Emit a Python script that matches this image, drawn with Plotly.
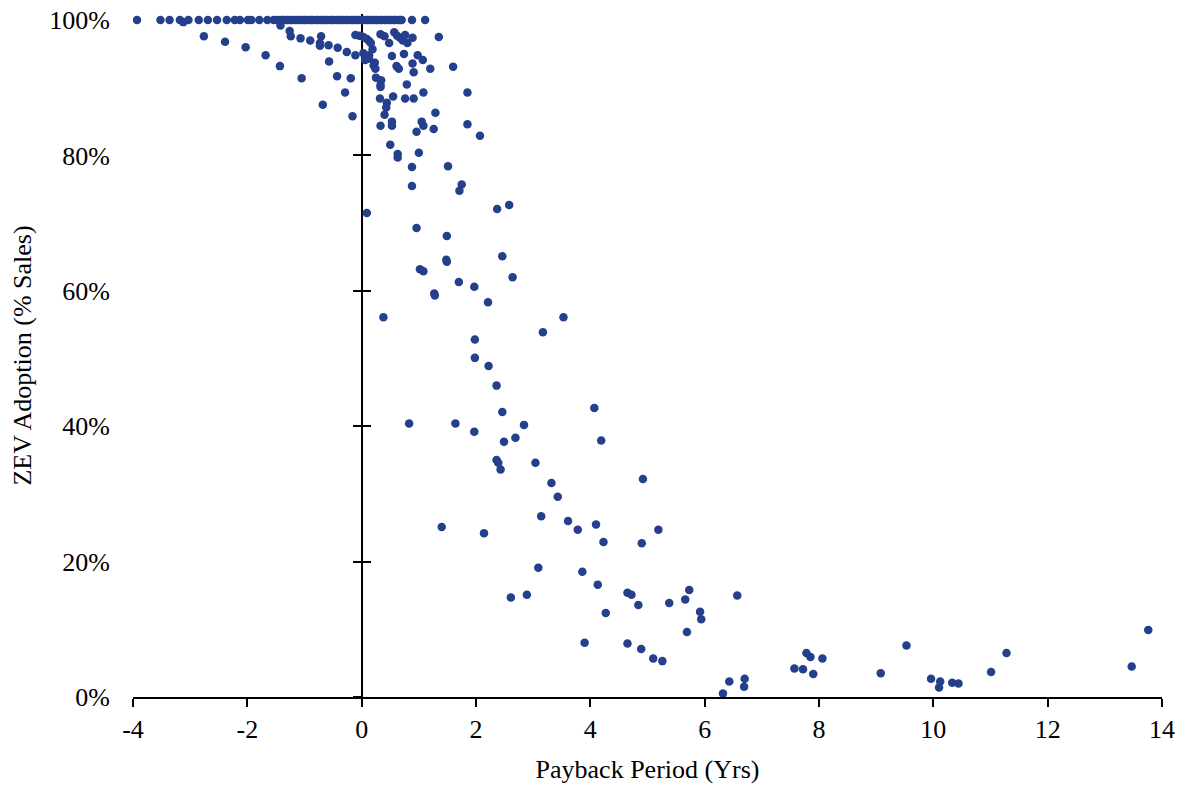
import plotly.graph_objects as go

# ---- data (payback years, ZEV adoption % of sales) ----
top_row_x = [-3.93, -3.52, -3.36, -3.18, -3.12, -3.03, -2.85, -2.69, -2.53, -2.36, -2.22,
             -2.13, -1.99, -1.93, -1.79, -1.65, -1.54, -1.49, 0.88, 1.11]
top_row_y = [100, 100, 100, 100, 99.7, 100, 100, 100, 100, 100, 100,
             100, 100, 100, 100, 100, 100, 100, 100, 100]

band_x = [-1.44, -1.40, -1.37, -1.32, -1.29, -1.24, -1.21, -1.16, -1.12, -1.09, -1.04, -1.00,
          -0.97, -0.92, -0.88, -0.85, -0.80, -0.77, -0.72, -0.69, -0.64, -0.61, -0.56, -0.52,
          -0.49, -0.44, -0.41, -0.36, -0.33, -0.28, -0.25, -0.20, -0.16, -0.13, -0.08, -0.05,
          0.00, 0.03, 0.08, 0.11, 0.16, 0.19, 0.24, 0.27, 0.32, 0.35, 0.40, 0.43, 0.48, 0.51,
          0.56, 0.59, 0.64, 0.67, 0.70]
band_y = [100] * len(band_x)

upper_x = [-2.76, -2.39, -2.03, -1.68, -1.43, -1.05, -0.68, -0.16,
           -1.42, -1.26, -1.24, -1.07, -0.90, -0.71, -0.73, -0.73, -0.58, -0.42, -0.26, -0.11,
           -0.57, -0.43, -0.19, -0.29,
           -0.11, -0.04, 0.03, 0.09, 0.13, 0.16, 0.19, 0.03, 0.13, 0.06, 0.13, 0.23, 0.21, 0.24,
           0.25, 0.34, 0.33, 0.33, 0.32, 0.44, 0.43, 0.40, 0.33, 0.53, 0.53, 0.50, 0.63, 0.63,
           0.88, 0.88, 1.00, 1.51,
           0.33, 0.40, 0.48, 0.57, 0.62, 0.67, 0.72, 0.76, 0.80, 0.89, 1.35,
           0.53, 0.74, 0.98, 1.07, 0.61, 0.65, 0.89, 0.91, 1.20, 1.60, 0.79, 1.08, 0.76, 0.91,
           0.55, 1.29, 1.05, 1.08, 0.96, 1.26, 1.85, 1.85, 2.07, 1.75, 1.71]
upper_y = [97.6, 96.8, 96.0, 94.8, 93.2, 91.4, 87.5, 85.8,
           99.2, 98.4, 97.6, 97.3, 97.0, 97.6, 96.6, 96.2, 96.3, 95.9, 95.3, 94.8,
           93.9, 91.7, 91.4, 89.3,
           97.8, 97.7, 97.5, 97.2, 96.9, 96.6, 95.7, 95.1, 94.8, 94.1, 94.3, 93.7, 93.3, 92.8,
           91.5, 91.1, 90.4, 90.1, 88.4, 87.8, 87.1, 86.0, 84.4, 85.0, 84.4, 81.6, 80.2, 79.7,
           78.3, 75.5, 80.4, 78.4,
           97.9, 97.6, 96.6, 98.2, 97.7, 97.4, 97.0, 97.8, 96.6, 97.4, 97.5,
           94.7, 95.0, 94.8, 94.1, 93.2, 92.8, 93.6, 92.3, 92.8, 93.1, 90.5, 89.3, 88.4, 88.4,
           88.7, 86.3, 85.0, 84.4, 83.5, 83.9, 89.3, 84.6, 82.9, 75.7, 74.8]

mid_x = [0.09, 2.37, 2.58, 0.96, 1.49, 1.48, 1.49, 2.46, 1.02, 1.08, 2.64, 1.70, 1.97, 1.27,
         1.28, 2.21, 0.38, 3.53, 3.17, 1.98, 1.98, 2.22, 2.36, 2.46, 4.07, 0.83, 1.64, 1.97,
         2.84, 2.69, 2.49, 4.19, 2.36, 2.39, 2.43, 3.04, 4.92, 3.32, 3.43, 3.14, 1.40, 2.14,
         3.61, 3.78, 4.10, 4.23, 4.90, 5.19, 3.09, 3.86, 4.13, 2.61, 2.89, 4.65, 4.72, 4.84,
         4.27, 5.38, 5.66, 5.73, 5.92, 5.94, 5.69, 6.57, 3.90, 4.65, 4.89, 5.10, 5.26]
mid_y = [71.5, 72.1, 72.7, 69.3, 68.1, 64.6, 64.3, 65.1, 63.2, 62.9, 62.0, 61.3, 60.6, 59.6,
         59.3, 58.3, 56.1, 56.1, 53.9, 52.8, 50.1, 48.9, 46.0, 42.1, 42.7, 40.4, 40.4, 39.2,
         40.2, 38.3, 37.7, 37.9, 35.0, 34.6, 33.6, 34.6, 32.2, 31.6, 29.6, 26.7, 25.1, 24.2,
         26.0, 24.7, 25.5, 22.9, 22.7, 24.7, 19.1, 18.5, 16.6, 14.7, 15.1, 15.4, 15.1, 13.6,
         12.4, 13.9, 14.4, 15.8, 12.6, 11.5, 9.6, 15.0, 8.0, 7.9, 7.1, 5.7, 5.3]

tail_x = [6.32, 6.43, 6.70, 6.69, 7.57, 7.72, 7.78, 7.85, 7.90, 8.06, 9.08, 9.53, 9.96, 10.12,
          10.10, 10.33, 10.44, 11.01, 11.28, 13.47, 13.76]
tail_y = [0.5, 2.3, 2.7, 1.5, 4.2, 4.1, 6.5, 5.9, 3.4, 5.7, 3.5, 7.6, 2.7, 2.3,
          1.4, 2.1, 2.0, 3.7, 6.5, 4.5, 9.9]

x_ticks = [-4, -2, 0, 2, 4, 6, 8, 10, 12, 14]
x_labels = ["-4", "-2", "0", "2", "4", "6", "8", "10", "12", "14"]
y_ticks = [0, 20, 40, 60, 80, 100]
y_labels = ["0%", "20%", "40%", "60%", "80%", "100%"]

x_all = top_row_x + band_x + upper_x + mid_x + tail_x
y_all = top_row_y + band_y + upper_y + mid_y + tail_y

MARK = "#243F8B"
FONT = "Liberation Serif, Times New Roman, serif"
YR = [0, 100.9]

fig = go.Figure()
fig.add_trace(go.Scatter(x=x_all, y=y_all, mode="markers",
                         marker=dict(color=MARK, size=8.5, line=dict(width=0)),
                         xaxis="x", yaxis="y", hoverinfo="x+y"))
# empty traces so the crossing axis at x=0 is drawn
fig.add_trace(go.Scatter(x=[None], y=[None], xaxis="x", yaxis="y2", showlegend=False))
fig.add_trace(go.Scatter(x=[None], y=[None], xaxis="x", yaxis="y3", showlegend=False))

fig.update_layout(
    width=1185, height=787,
    margin=dict(l=133, r=23, t=14, b=90, autoexpand=False),
    plot_bgcolor="white", paper_bgcolor="white",
    showlegend=False,
    font=dict(family=FONT, size=26, color="black"),
    xaxis=dict(range=[-4, 14], tickvals=x_ticks, ticktext=x_labels, showline=True,
               linecolor="black", linewidth=2, ticks="outside", ticklen=8, tickwidth=2,
               tickcolor="black", showgrid=False, zeroline=False, layer="below traces",
               automargin=False, ticklabeloverflow="allow",
               title=dict(text="Payback Period (Yrs)", standoff=17, font=dict(size=26))),
    yaxis=dict(range=YR, tickvals=y_ticks, ticktext=y_labels, ticks="",
               showline=False, showgrid=False, zeroline=False, ticklabelstandoff=22,
               automargin=False, ticklabeloverflow="allow",
               title=dict(text="ZEV Adoption (% Sales)", standoff=10, font=dict(size=26))),
    yaxis2=dict(range=YR, overlaying="y", anchor="free", position=4 / 18,
                tickvals=y_ticks, showticklabels=False, showline=True, linecolor="black",
                linewidth=2, ticks="outside", ticklen=8, tickwidth=2, tickcolor="black",
                showgrid=False, zeroline=False, layer="below traces", automargin=False),
    yaxis3=dict(range=YR, overlaying="y", anchor="free", position=4 / 18,
                tickvals=y_ticks, showticklabels=False, showline=False,
                ticks="inside", ticklen=8, tickwidth=2, tickcolor="black",
                showgrid=False, zeroline=False, layer="below traces", automargin=False),
)

# remove the page's default body margin so the figure fills the window exactly
fig.write_html("out.html", config={"displayModeBar": False},
               post_script="document.body.style.margin='0';document.body.style.overflow='hidden';")
